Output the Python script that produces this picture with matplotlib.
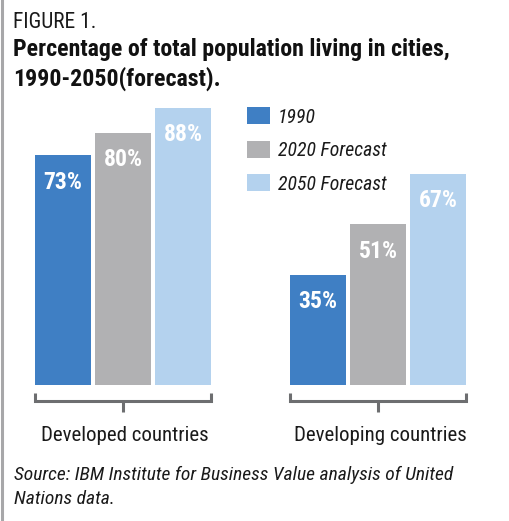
import matplotlib
matplotlib.use("Agg")
import matplotlib.pyplot as plt
import numpy as np

# data
groups = ["Developed countries", "Developing countries"]
series = ["1990", "2020 Forecast", "2050 Forecast"]
values_1990 = [73, 35]
values_2020 = [80, 51]
values_2050 = [88, 67]
colors = ["#3f7fc4", "#b1b1b3", "#b4d2ee"]

W, H = 510, 521
plt.rcParams["font.family"] = ["Roboto Condensed", "DejaVu Sans"]

fig = plt.figure(figsize=(W / 100, H / 100), dpi=100)
ax = fig.add_axes([0, 0, 1, 1])

# pixel mapping: group 0 centre at x=123px, 255px between groups
unit = 255.0
x0 = 123.0
ax.set_xlim(-x0 / unit, (W - x0) / unit)
base_px = 385.0
scale = 3.15  # px per percent
ax.set_ylim(-(H - base_px) / scale, base_px / scale)
ax.axis("off")


def px(x, y):
    return x / W, 1 - y / H


def yv(ypx):
    return (base_px - ypx) / scale


width = 56 / unit
step = 60 / unit
x = np.arange(len(groups))
all_vals = [values_1990, values_2020, values_2050]
for i, (vals, c) in enumerate(zip(all_vals, colors)):
    pos = x + (i - 1) * step
    ax.bar(pos, vals, width=width, color=c, linewidth=0)
    for p, v in zip(pos, vals):
        ax.text(p, v - 27 / scale, f"{v}%", ha="center", va="center",
                color="white", fontsize=17, fontweight="bold")

# brackets under groups
bc = "#6d6e70"
for g in x:
    left = g - step - width / 2
    right = g + step + width / 2
    ax.plot([left, left, right, right], [yv(393), yv(401), yv(401), yv(393)],
            color=bc, lw=2.2, solid_joinstyle="miter", solid_capstyle="butt")
    ax.plot([g, g], [yv(401), yv(412)], color=bc, lw=2.2, solid_capstyle="butt")
    ax.text(g + 2 / unit, yv(441), groups[g], ha="center", va="baseline",
            fontsize=15, color="#1a1a1a")

# legend
for i, (name, c) in enumerate(zip(series, colors)):
    top = 107 + i * 33.5
    fig.patches.append(plt.Rectangle(px(247, top + 17), 23 / W, 17 / H,
                                     transform=fig.transFigure, color=c, lw=0))
    fig.text(*px(278, top + 16), name, fontsize=14.2, fontstyle="italic",
             va="baseline", color="#1a1a1a")

# titles
fig.text(*px(13, 28), "FIGURE 1.", fontsize=15.5, va="baseline", color="#1a1a1a")
fig.text(*px(13, 56), "Percentage of total population living in cities,",
         fontsize=17.2, fontweight="bold", va="baseline", color="#111111")
fig.text(*px(13, 86), "1990-2050(forecast).", fontsize=17.2, fontweight="bold",
         va="baseline", color="#111111")

# source
fig.text(*px(14, 480), "Source: IBM Institute for Business Value analysis of United",
         fontsize=14, fontstyle="italic", va="baseline", color="#1a1a1a")
fig.text(*px(14, 504), "Nations data.", fontsize=14, fontstyle="italic",
         va="baseline", color="#1a1a1a")

# left border
fig.add_artist(plt.Line2D([2 / W, 2 / W], [0, 1], color="#a7a7a9", lw=2.2))

fig.savefig("out.png", dpi=100)
